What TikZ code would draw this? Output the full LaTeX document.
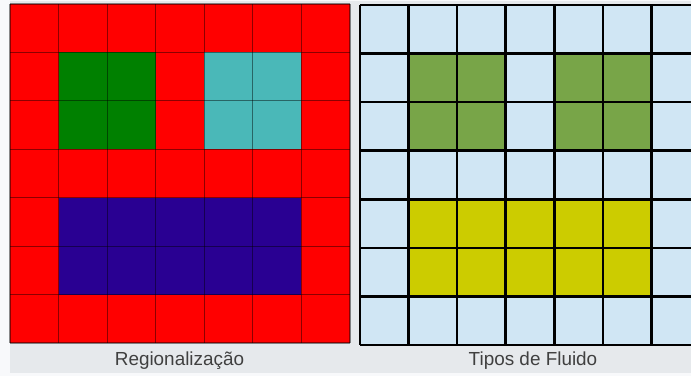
\documentclass[tikz,border=0pt]{standalone}
\usepackage{fontspec}
\setmainfont{Liberation Sans}
\definecolor{pagebg}{HTML}{F8F9FB}
\definecolor{panelbg}{HTML}{E6E9EC}
\definecolor{cred}{HTML}{FF0000}
\definecolor{cgreen}{HTML}{008000}
\definecolor{cteal}{HTML}{4AB8B8}
\definecolor{cpurple}{HTML}{290092}
\definecolor{clblue}{HTML}{D0E6F4}
\definecolor{colive}{HTML}{78A548}
\definecolor{cyellow}{HTML}{CCCC00}
\definecolor{labelgray}{HTML}{404040}
\tikzset{
  thingrid/.style={black, opacity=0.45, line width=1.1pt},
  thickgrid/.style={black, line width=2.7pt},
  caption/.style={text=labelgray, font=\fontsize{18.9}{22}\selectfont, anchor=base, inner sep=0pt}
}
\begin{document}
\begin{tikzpicture}[x=1pt,y=-1pt]
\useasboundingbox (0,0) rectangle (691,376);
\fill[pagebg] (0,0) rectangle (691,376);
\fill[panelbg] (10,1) rectangle (691,373);
% ---------- left grid ----------
\def\lx{10}\def\ly{4}\def\lw{48.571}\def\lh{48.43}
\fill[cred] (\lx,\ly) rectangle (350,343);
\fill[cgreen] ({\lx+\lw},{\ly+\lh}) rectangle ({\lx+3*\lw},{\ly+3*\lh});
\fill[cteal] ({\lx+4*\lw},{\ly+\lh}) rectangle ({\lx+6*\lw},{\ly+3*\lh});
\fill[cpurple] ({\lx+\lw},{\ly+4*\lh}) rectangle ({\lx+6*\lw},{\ly+6*\lh});
\foreach \i in {0,...,7}{
  \draw[thingrid] ({\lx+\i*\lw},\ly) -- ({\lx+\i*\lw},343);
  \draw[thingrid] (\lx,{\ly+\i*\lh}) -- (350,{\ly+\i*\lh});
}
% ---------- right grid ----------
\begin{scope}
\clip (355,0) rectangle (691,376);
\def\rx{360}\def\ry{5}\def\rw{48.571}
\fill[clblue] (\rx,\ry) rectangle (700,345);
\fill[colive] ({\rx+\rw},{\ry+\rw}) rectangle ({\rx+3*\rw},{\ry+3*\rw});
\fill[colive] ({\rx+4*\rw},{\ry+\rw}) rectangle ({\rx+6*\rw},{\ry+3*\rw});
\fill[cyellow] ({\rx+\rw},{\ry+4*\rw}) rectangle ({\rx+6*\rw},{\ry+6*\rw});
\foreach \i in {0,...,7}{
  \draw[thickgrid] ({\rx+\i*\rw},\ry) -- ({\rx+\i*\rw},345);
  \draw[thickgrid] (\rx,{\ry+\i*\rw}) -- (700,{\ry+\i*\rw});
}
\end{scope}
% ---------- captions ----------
\node[caption] (capleft) at (179.5,365) {Regionalização};
\node[caption] (capright) at (533,365) {Tipos de Fluido};
\end{tikzpicture}
\end{document}
